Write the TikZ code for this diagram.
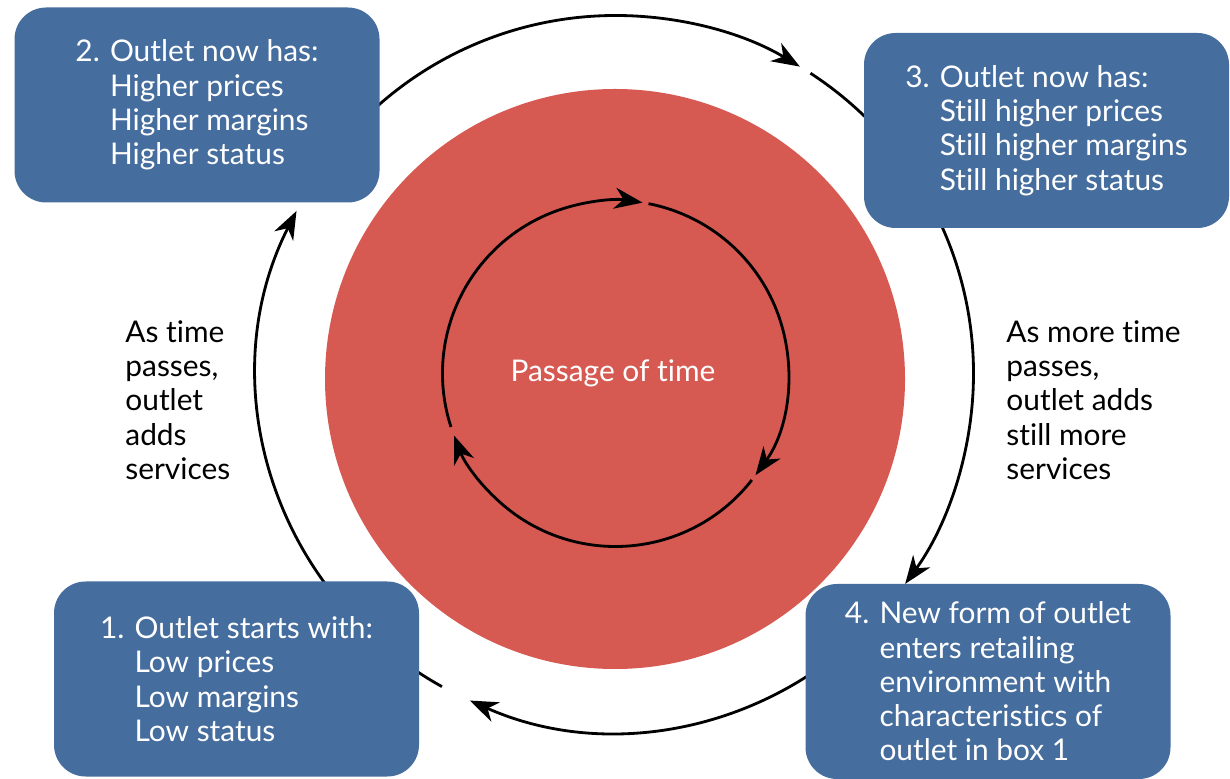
\documentclass[tikz,border=0pt]{standalone}
\usepackage{fontspec}
\setmainfont{Lato}[Ligatures=CommonOff]
\usepackage{tikz}
\usetikzlibrary{arrows.meta,calc,positioning}
\definecolor{BoxBlue}{RGB}{69,109,158}
\definecolor{TimeRed}{RGB}{214,89,82}

\begin{document}
\begin{tikzpicture}[>={Stealth[length=16pt,width=12pt,inset=5pt]},
       black, line width=1.6pt,
       every node/.style={font=\fontsize{17}{19.5}\selectfont},
       stagebox/.style={rectangle, rounded corners=18pt, fill=BoxBlue, text=white,
                        minimum width=7.3cm, minimum height=3.9cm, align=left},
       sidenote/.style={anchor=west, align=left, inner sep=0pt, text=black}]
	\useasboundingbox (0,0) rectangle (24.6,15.56);
	\def\Rout{7.16cm}
	\def\Rin{3.46cm}

	%% Centres
	\coordinate (ctr) at (12.31,8.09);
	\coordinate (redctr) at (12.3,7.98);

	%% Passage of time
	\fill[TimeRed] (redctr) circle (5.8cm);
	\node[text=white] (time) at (12.26,8.1) {Passage of time};

	%% Inner cycle
	\coordinate (in1) at ($(ctr)+(198:\Rin)$);
	\coordinate (in2) at ($(ctr)+(79:\Rin)$);
	\coordinate (in3) at ($(ctr)+(-38:\Rin)$);
	\draw[->] (in1) arc[start angle=198, end angle=81, radius=\Rin];
	\draw[->] (in2) arc[start angle=79, end angle=-36, radius=\Rin];
	\draw[->] (in3) arc[start angle=-38, end angle=-159, radius=\Rin];

	%% Outer cycle
	\coordinate (out1) at ($(ctr)+(241:\Rout)$);
	\coordinate (out2) at ($(ctr)+(151:\Rout)$);
	\coordinate (out3) at ($(ctr)+(57:\Rout)$);
	\coordinate (out4) at ($(ctr)+(-38:\Rout)$);
	\draw[->] (out1) arc[start angle=241, end angle=153, radius=\Rout];
	\draw[->] (out2) arc[start angle=151, end angle=59, radius=\Rout];
	\draw[->] (out3) arc[start angle=57, end angle=-36, radius=\Rout];
	\draw[->] (out4) arc[start angle=-38, end angle=-114, radius=\Rout];

	%% Stages
	\node[stagebox] (box1) at (4.73,1.98) {1. Outlet starts with:\\\phantom{1. }Low prices\\\phantom{1. }Low margins\\\phantom{1. }Low status};
	\node[stagebox] (box2) at (3.94,13.46) {2. Outlet now has:\\\phantom{2. }Higher prices\\\phantom{2. }Higher margins\\\phantom{2. }Higher status};
	\node[stagebox] (box3) at (20.93,12.95) {3. Outlet now has:\\\phantom{3. }Still higher prices\\\phantom{3. }Still higher margins\\\phantom{3. }Still higher status};
	\node[stagebox] (box4) at (19.76,1.93) {4. New form of outlet\\\phantom{4. }enters retailing\\\phantom{4. }environment with\\\phantom{4. }characteristics of\\\phantom{4. }outlet in box 1};

	%% Side notes
	\node[sidenote] (note12) at (2.48,7.56) {As time\\passes,\\outlet\\adds\\services};
	\node[sidenote] (note34) at (20.1,7.56) {As more time\\passes,\\outlet adds\\still more\\services};
\end{tikzpicture}
\end{document}
